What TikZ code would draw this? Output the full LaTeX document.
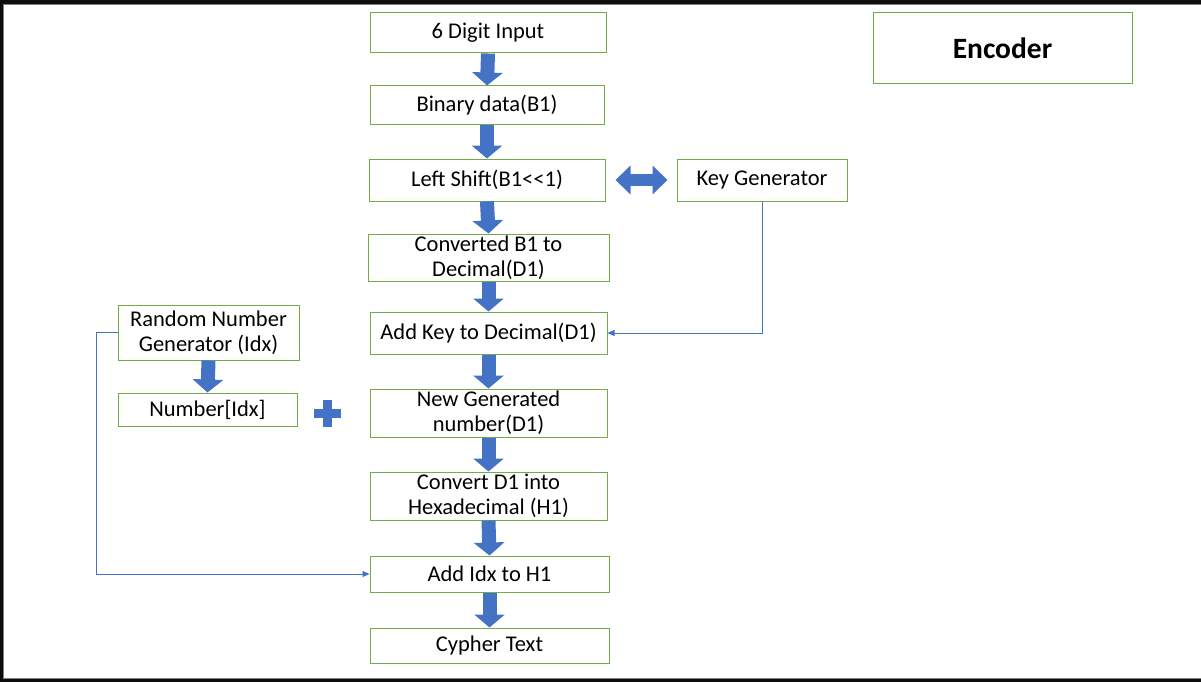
\documentclass[tikz,border=0pt]{standalone}
\usepackage{fontspec}
\setmainfont{Carlito}
\usetikzlibrary{arrows.meta}
\definecolor{boxgreen}{HTML}{70AD47}
\definecolor{arrblue}{HTML}{4472C4}
\definecolor{frame}{HTML}{0D0D0D}
\tikzset{
  stepbox/.style={draw=boxgreen, line width=1pt, fill=white, align=center, inner sep=0pt,
    font=\fontsize{22.5}{25}\selectfont},
  blockarrow/.style={draw=arrblue, line width=14pt, -{Triangle[width=30pt,length=13pt]}},
  thinlink/.style={draw=arrblue, line width=0.9pt, -{Triangle[width=6pt,length=7pt]}}
}
\begin{document}
\begin{tikzpicture}[x=1pt,y=-1pt]
\useasboundingbox (0,0) rectangle (1201,682);
\fill[white] (0,0) rectangle (1201,682);
% frame
\fill[frame] (0,0) rectangle (1201,4);
\fill[frame] (0,0) rectangle (3,682);
\fill[frame] (0,679) rectangle (1201,682);
\draw[gray, line width=0.8pt] (3,4.4) -- (1201,4.4);
\draw[gray, line width=0.8pt] (3.4,4) -- (3.4,679);
\draw[gray, line width=0.8pt] (3,678.6) -- (1201,678.6);

\node[stepbox, minimum width=236pt, minimum height=40pt] (in) at (488,33) {6 Digit Input};
\node[stepbox, minimum width=234pt, minimum height=39pt] (bin) at (487,105.5) {Binary data(B1)};
\node[stepbox, minimum width=236pt, minimum height=42pt] (ls) at (487,180) {Left Shift(B1{<}{<}1)};
\node[stepbox, minimum width=170pt, minimum height=42pt] (kg) at (762,180) {Key Generator};
\node[stepbox, minimum width=241pt, minimum height=47pt] (conv) at (488.5,257.5) {Converted B1 to\\Decimal(D1)};
\node[stepbox, minimum width=237pt, minimum height=42pt] (addk) at (488.5,333) {Add Key to Decimal(D1)};
\node[stepbox, minimum width=181pt, minimum height=55pt] (rng) at (208.5,332.5) {Random Number\\Generator (Idx)};
\node[stepbox, minimum width=179pt, minimum height=33pt] (num) at (207.5,409.5) {Number[Idx]};
\node[stepbox, minimum width=237pt, minimum height=48pt] (newg) at (488.5,413) {New Generated\\number(D1)};
\node[stepbox, minimum width=237pt, minimum height=48pt] (hex) at (488.5,496) {Convert D1 into\\Hexadecimal (H1)};
\node[stepbox, minimum width=239pt, minimum height=36pt] (addi) at (489.5,574) {Add Idx to H1};
\node[stepbox, minimum width=239pt, minimum height=35pt] (cy) at (489.5,645.5) {Cypher Text};
\node[stepbox, minimum width=259pt, minimum height=71pt, font=\fontsize{29.5}{32}\selectfont\bfseries] (enc) at (1002.5,48.5) {Encoder};

% block arrows
\draw[blockarrow] (in.south) -- (bin.north);
\draw[blockarrow] (bin.south) -- (ls.north);
\draw[blockarrow] (ls.south) -- (conv.north);
\draw[blockarrow] (conv.south) -- (addk.north);
\draw[blockarrow] (addk.south) -- (newg.north);
\draw[blockarrow] (newg.south) -- (hex.north);
\draw[blockarrow] (hex.south) -- (addi.north);
\draw[blockarrow] (addi.south) -- (cy.north);
\draw[blockarrow] (rng.south) -- (num.north);
\draw[draw=arrblue, line width=12pt, {Triangle[width=28pt,length=15pt]}-{Triangle[width=28pt,length=15pt]},
  shorten <=10pt, shorten >=9pt] (ls.east) -- (kg.west);

% plus sign
\node[inner sep=0pt, minimum size=27pt] (plus) at (327.5,413.5) {};
\fill[arrblue] ([xshift=-4.5pt]plus.north) rectangle ([xshift=4.5pt]plus.south);
\fill[arrblue] ([yshift=-4.5pt]plus.west) rectangle ([yshift=4.5pt]plus.east);

% thin connectors
\draw[thinlink] (kg.south) |- (addk.east);
\coordinate (rl) at (96,332.5);
\draw[thinlink] (rng.west) -- (rl) |- (addi.west);
\end{tikzpicture}
\end{document}
